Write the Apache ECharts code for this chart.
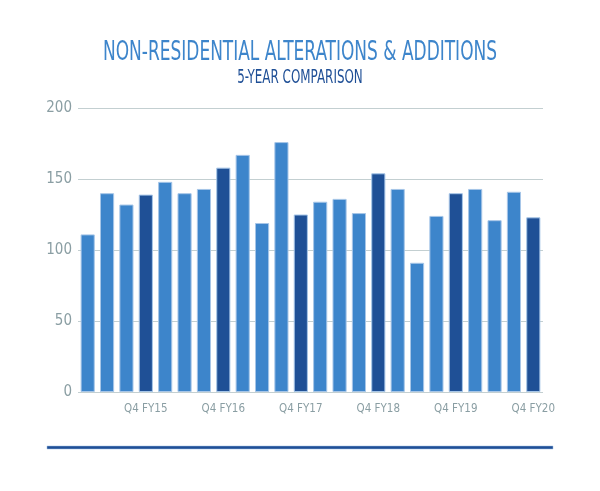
<!DOCTYPE html>
<html><head><meta charset="utf-8">
<script src="https://cdn.jsdelivr.net/npm/echarts@6/dist/echarts.min.js"></script>
<style>html,body{margin:0;padding:0;background:#fff}#c{width:600px;height:491px}</style>
</head><body><div id="c"></div>
<script>
const titleText = 'NON-RESIDENTIAL ALTERATIONS & ADDITIONS';
const subtitleText = '5-YEAR COMPARISON';
const categories = ['Q1 FY15','Q2 FY15','Q3 FY15','Q4 FY15','Q1 FY16','Q2 FY16','Q3 FY16','Q4 FY16','Q1 FY17','Q2 FY17','Q3 FY17','Q4 FY17','Q1 FY18','Q2 FY18','Q3 FY18','Q4 FY18','Q1 FY19','Q2 FY19','Q3 FY19','Q4 FY19','Q1 FY20','Q2 FY20','Q3 FY20','Q4 FY20'];
const values = [111,140,132,139,148,140,143,158,167,119,176,125,134,136,126,154,143,91,124,140,143,121,141,123];
const shownLabels = ['Q4 FY15','Q4 FY16','Q4 FY17','Q4 FY18','Q4 FY19','Q4 FY20'];
const yTicks = [0,50,100,150,200];
const FONT = "'DejaVu Sans Condensed','Liberation Sans Narrow',sans-serif";
const chart = echarts.init(document.getElementById('c'));
chart.setOption({
  animation:false,
  grid:{left:78,right:57,top:108,bottom:99},
  xAxis:{type:'category',data:categories,axisLine:{show:false},axisTick:{show:false},
    axisLabel:{interval:0,margin:11,color:'#8a9ea3',fontSize:11.5,fontFamily:FONT,
      formatter:v=>shownLabels.includes(v)?v:''}},
  yAxis:{type:'value',min:yTicks[0],max:yTicks[yTicks.length-1],interval:50,
    axisLabel:{color:'#8a9ea3',fontSize:15,margin:6,fontFamily:FONT},
    axisLine:{show:false},axisTick:{show:false},
    splitLine:{lineStyle:{color:'#c3cfd1',width:1}}},
  series:[{type:'bar',barCategoryGap:'27%',
    data:values.map((v,i)=>({value:v,itemStyle:{color:shownLabels.includes(categories[i])?'#1f5096':'#3d85cb'}})),
    itemStyle:{borderColor:'#a7c6e8',borderWidth:1}}],
  graphic:[
    {type:'text',x:300,y:53,scaleX:0.70,style:{text:titleText,x:0,y:0,align:'center',verticalAlign:'middle',fill:'#3d85cb',font:"27px "+FONT}},
    {type:'text',x:300,y:78,scaleX:0.68,style:{text:subtitleText,x:0,y:0,align:'center',verticalAlign:'middle',fill:'#1f4f96',font:"19.5px "+FONT}},
    {type:'rect',shape:{x:47,y:446,width:506,height:3},style:{fill:'#1f4f96',stroke:'#9fbce0',lineWidth:0.5}}
  ]
});
</script></body></html>
